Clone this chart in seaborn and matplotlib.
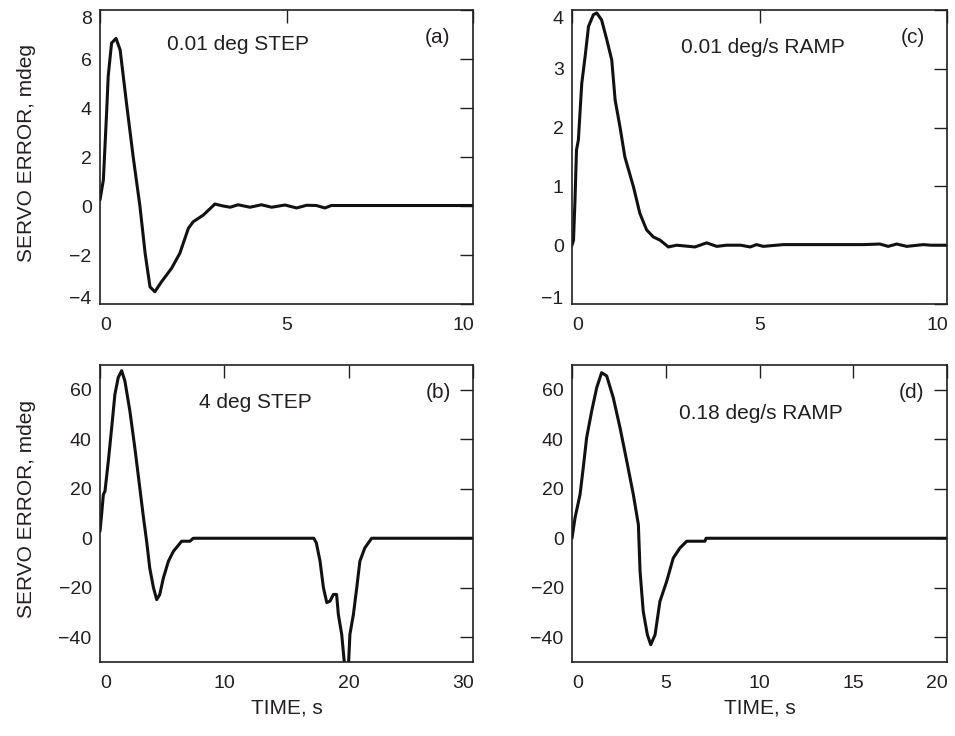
import matplotlib
matplotlib.use("Agg")
import matplotlib.pyplot as plt
import seaborn as sns
import pandas as pd
from matplotlib.transforms import ScaledTranslation

# ---------------- data ----------------
a_t = [0, 0.09, 0.18, 0.22, 0.31, 0.43, 0.54, 0.71, 0.89, 1.07, 1.21, 1.34, 1.47,
       1.65, 1.92, 2.14, 2.37, 2.5, 2.77, 3.08, 3.3, 3.49, 3.7, 4.02, 4.33, 4.6,
       4.96, 5.27, 5.54, 5.8, 6.03, 6.2, 7.5, 8.5, 10.0]
a_v = [0.25, 1.06, 3.9, 5.3, 6.65, 6.84, 6.37, 4.2, 2.0, 0.0, -1.93, -3.3, -3.5,
       -3.09, -2.54, -1.93, -0.91, -0.64, -0.37, 0.08, 0.0, -0.05, 0.05, -0.05,
       0.05, -0.05, 0.04, -0.08, 0.03, 0.02, -0.08, 0.02, 0.02, 0.02, 0.02]

c_t = [0, 0.04, 0.08, 0.12, 0.17, 0.26, 0.35, 0.44, 0.57, 0.66, 0.79, 0.93, 1.06,
       1.15, 1.28, 1.41, 1.64, 1.81, 1.99, 2.17, 2.35, 2.57, 2.79, 3.28, 3.59,
       3.86, 4.12, 4.5, 4.75, 4.92, 5.1, 5.63, 6.97, 7.77, 8.21, 8.43, 8.66, 8.93,
       9.37, 9.56, 10.0]
c_v = [0.0, 0.085, 0.77, 1.62, 1.79, 2.75, 3.21, 3.72, 3.92, 3.95, 3.83, 3.49,
       3.15, 2.47, 2.01, 1.5, 0.99, 0.54, 0.26, 0.14, 0.085, -0.03, 0.0, -0.03,
       0.04, -0.02, 0.0, 0.0, -0.03, 0.01, -0.02, 0.01, 0.01, 0.01, 0.02, -0.02,
       0.02, -0.02, 0.01, 0.0, 0.0]

b_t = [0, 0.13, 0.27, 0.4, 0.67, 0.94, 1.2, 1.47, 1.74, 2.0, 2.4, 2.8, 3.2, 3.5,
       3.75, 4.0, 4.3, 4.56, 4.8, 5.1, 5.5, 5.9, 6.57, 7.24, 7.5, 17.2, 17.4,
       17.7, 17.97, 18.24, 18.5, 18.77, 19.03, 19.17, 19.44, 19.7, 19.97, 20.1,
       20.38, 20.65, 20.9, 21.3, 21.85, 30.0]
b_v = [2.8, 9.6, 17.7, 19.0, 31.2, 44.7, 58.2, 65.0, 67.7, 63.6, 51.5, 36.6, 20.4,
       8.2, -1.2, -12.0, -20.0, -24.8, -22.8, -16.0, -9.3, -5.3, -1.2, -1.2, 0.0,
       0.0, -1.9, -9.3, -20.0, -26.0, -25.4, -22.7, -22.7, -30.8, -38.8, -53.0,
       -53.0, -38.8, -30.8, -20.0, -9.3, -3.9, 0.0, 0.0]

d_t = [0, 0.16, 0.43, 0.6, 0.78, 1.05, 1.32, 1.58, 1.85, 2.2, 2.56, 2.92, 3.27,
       3.54, 3.63, 3.8, 4.02, 4.2, 4.43, 4.69, 5.05, 5.4, 5.76, 6.12, 7.09, 7.15,
       20.0]
d_v = [0.0, 8.2, 17.7, 28.5, 40.6, 51.4, 60.9, 66.9, 65.6, 56.8, 44.7, 31.2, 17.7,
       5.5, -13.4, -29.6, -39.0, -43.0, -39.0, -25.5, -17.4, -8.0, -3.9, -1.2,
       -1.2, 0.0, 0.0]

a_xticks = [0, 5, 10]
a_yticks = [-4, -2, 0, 2, 4, 6, 8]
c_xticks = [0, 5, 10]
c_yticks = [-1, 0, 1, 2, 3, 4]
b_xticks = [0, 10, 20, 30]
b_yticks = [-40, -20, 0, 20, 40, 60]
d_xticks = [0, 5, 10, 15, 20]
d_yticks = [-40, -20, 0, 20, 40, 60]

titles = ["0.01 deg STEP", "0.01 deg/s RAMP", "4 deg STEP", "0.18 deg/s RAMP"]
tags = ["(a)", "(c)", "(b)", "(d)"]
ylabel = "SERVO ERROR, mdeg"
xlabel = "TIME, s"

# ---------------- style ----------------
sns.set_theme(style="white")
plt.rcParams["font.family"] = ["Liberation Sans", "DejaVu Sans"]
INK = "#231f20"
LINE = "#111111"

W, H = 955, 736
fig = plt.figure(figsize=(W / 100, H / 100), dpi=100)


def add_ax(l, t, r, b):
    return fig.add_axes([l / W, 1 - b / H, (r - l) / W, (b - t) / H])


panels = [
    # box (px), t, v, xlim, ylim, xticks, yticks, title pos, tag pos
    ((100, 10, 473, 304), a_t, a_v, (0, 10), (-4, 8), a_xticks, a_yticks, (0.370, 0.881), (0.906, 0.908)),
    ((572, 10, 947, 304), c_t, c_v, (0, 10), (-1, 4), c_xticks, c_yticks, (0.509, 0.871), (0.909, 0.908)),
    ((100, 365, 473, 662), b_t, b_v, (0, 30), (-50, 70), b_xticks, b_yticks, (0.416, 0.875), (0.906, 0.906)),
    ((572, 365, 947, 662), d_t, d_v, (0, 20), (-50, 70), d_xticks, d_yticks, (0.504, 0.838), (0.904, 0.906)),
]

for i, (box, t, v, xl, yl, xt, yt, tpos, gpos) in enumerate(panels):
    ax = add_ax(*box)
    df = pd.DataFrame({"t": t, "v": v})
    sns.lineplot(data=df, x="t", y="v", ax=ax, color=LINE, linewidth=2.2,
                 estimator=None, sort=False)
    ax.set_xlim(*xl)
    ax.set_ylim(*yl)
    ax.set_xticks(xt)
    ax.set_yticks(yt)
    ax.set_xlabel("")
    ax.set_ylabel("")
    ax.tick_params(direction="in", length=9.4, width=1.0, color=INK,
                   top=True, right=True, labelsize=14, labelcolor=INK)
    ax.tick_params(axis="x", pad=9)
    ax.tick_params(axis="y", pad=6)
    for sp in ax.spines.values():
        sp.set_visible(True)
        sp.set_color(INK)
        sp.set_linewidth(1.2)

    # pull edge tick labels inward like the reference
    fig.canvas.draw()
    xlabs = ax.get_xticklabels()
    xlabs[0].set_transform(xlabs[0].get_transform() + ScaledTranslation(6 / 100, 0, fig.dpi_scale_trans))
    xlabs[-1].set_transform(xlabs[-1].get_transform() + ScaledTranslation(-10 / 100, 0, fig.dpi_scale_trans))
    ylabs = ax.get_yticklabels()
    if yt[0] == yl[0]:
        ylabs[0].set_transform(ylabs[0].get_transform() + ScaledTranslation(0, 7 / 100, fig.dpi_scale_trans))
    if yt[-1] == yl[1]:
        ylabs[-1].set_transform(ylabs[-1].get_transform() + ScaledTranslation(0, -7 / 100, fig.dpi_scale_trans))

    ax.text(tpos[0], tpos[1], titles[i], transform=ax.transAxes, ha="center",
            va="center", fontsize=15, color=INK)
    ax.text(gpos[0], gpos[1], tags[i], transform=ax.transAxes, ha="center",
            va="center", fontsize=15, color=INK)

    if box[0] == 100:
        ax.set_ylabel(ylabel, fontsize=15, color=INK)
        ax.yaxis.set_label_coords((36 - box[0]) / (box[2] - box[0]), 0.515)
    if box[1] == 365:
        ax.set_xlabel(xlabel, fontsize=15, color=INK)
        ax.xaxis.set_label_coords(0.5, (box[3] - 699) / (box[3] - box[1]))

fig.savefig("out.png", dpi=100, facecolor="white")
